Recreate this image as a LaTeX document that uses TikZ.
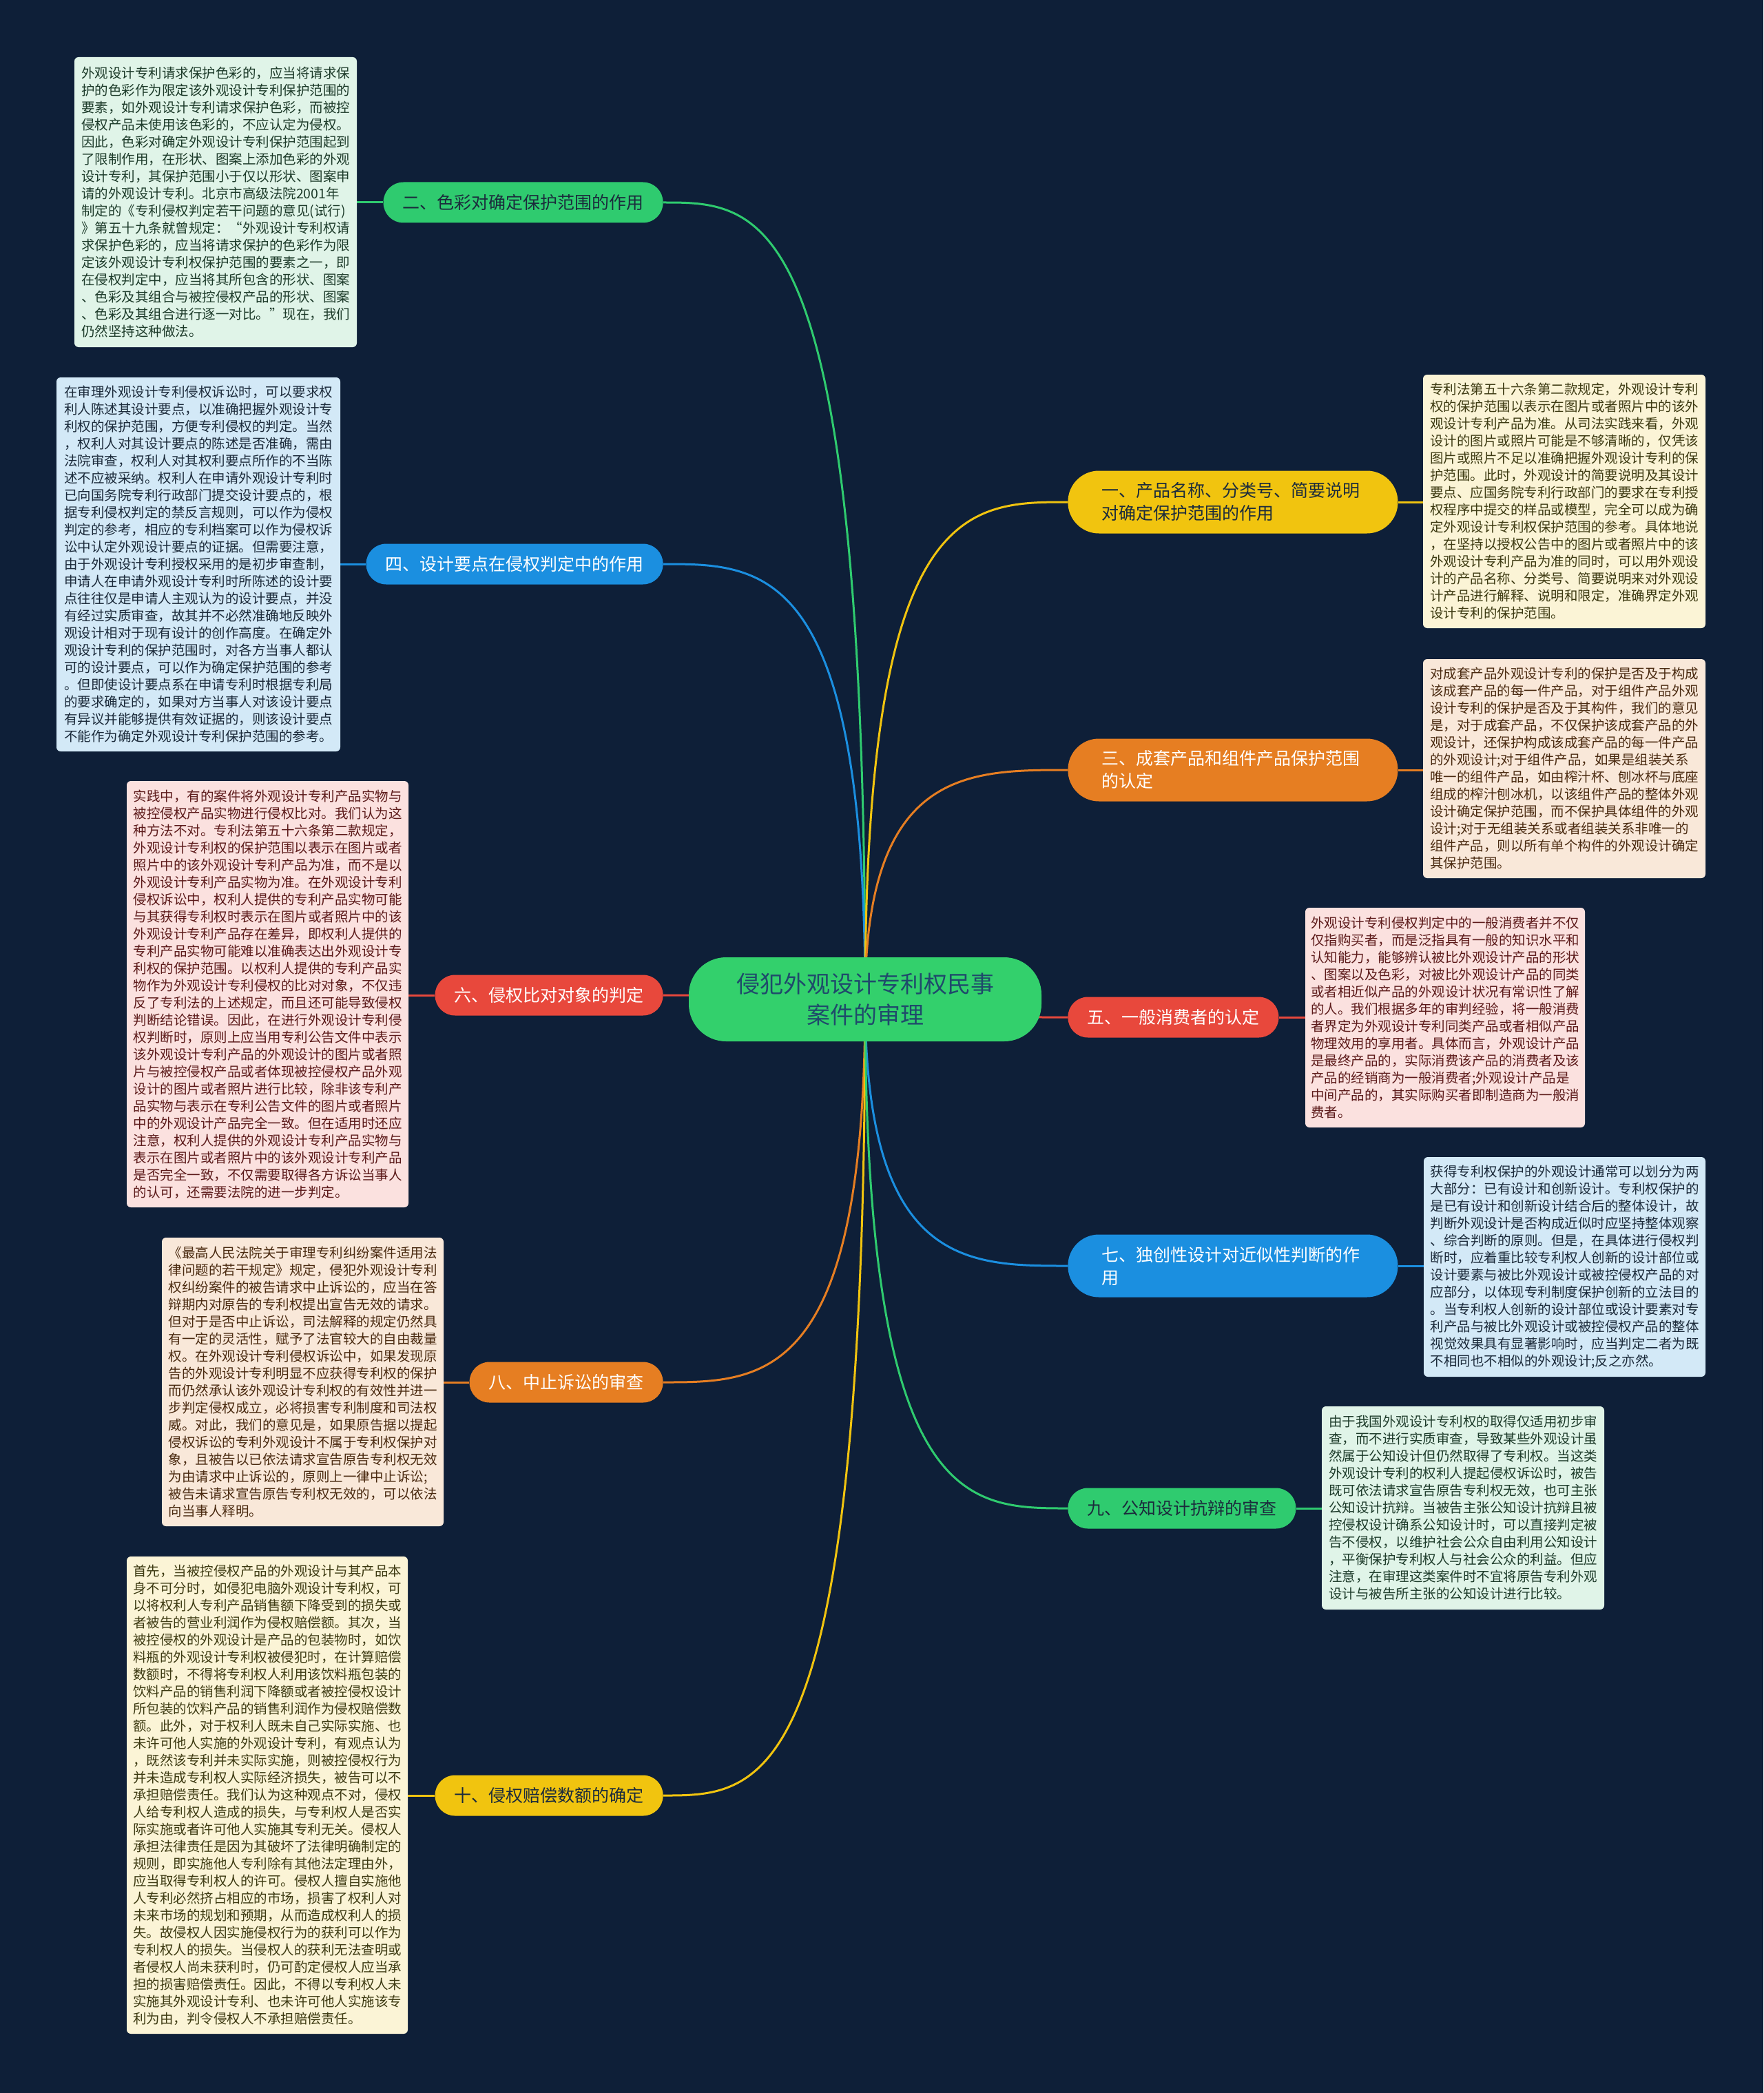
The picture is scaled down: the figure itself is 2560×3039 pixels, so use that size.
\documentclass[tikz,border=0pt]{standalone}
\usepackage{fontspec}
\setmainfont{Noto Sans CJK SC}
\usetikzlibrary{calc}
\pgfdeclarelayer{bglayer}
\pgfdeclarelayer{edgelayer}
\pgfsetlayers{bglayer,edgelayer,main}
\definecolor{bgc}{HTML}{0E1F38}
\definecolor{cgreen}{HTML}{2FCB6F}
\definecolor{ccenter}{HTML}{33D06C}
\definecolor{cblue}{HTML}{1B8FE0}
\definecolor{cred}{HTML}{E8483C}
\definecolor{corange}{HTML}{E67E22}
\definecolor{cyellow}{HTML}{F1C40F}
\definecolor{fmint}{HTML}{E0F4E8}
\definecolor{fblue}{HTML}{D3E9F7}
\definecolor{fpink}{HTML}{FBE1DF}
\definecolor{fpeach}{HTML}{F9E8D9}
\definecolor{fcream}{HTML}{FBF4D6}
\definecolor{tmint}{HTML}{1D3B2A}
\definecolor{tblue}{HTML}{1B2A3A}
\definecolor{tpink}{HTML}{5C1A1A}
\definecolor{tpeach}{HTML}{4A2A10}
\definecolor{tcream}{HTML}{3D3A12}
\definecolor{tdark}{HTML}{1B2B3C}
\definecolor{tcenter}{HTML}{1F4A6B}
\tikzset{
  tbox/.style={rounded corners=3pt, inner sep=0pt, align=left, font=\fontsize{9.75}{12.5}\selectfont},
  pill/.style={rounded corners=14.5pt, minimum height=29.5pt, inner xsep=14pt, inner ysep=0pt, font=\fontsize{12.5}{16.5}\selectfont},
  pilltwo/.style={rounded corners=22.5pt, minimum height=45.5pt, inner xsep=24.75pt, inner ysep=0pt, text width=190pt, align=left, font=\fontsize{12.5}{16.5}\selectfont},
  edge/.style={line width=1.5pt},
  branch/.style={to path={.. controls (\tikztostart |- \tikztotarget) and ($(\tikztostart |- \tikztotarget)!0.5!(\tikztotarget)$) .. (\tikztotarget)}}
}
\begin{document}
\begin{tikzpicture}[x=0.5pt,y=-0.5pt]
\begin{pgfonlayer}{bglayer}
\fill[bgc] (0,0) rectangle (2560,3039);
\end{pgfonlayer}
\useasboundingbox (0,0) rectangle (2560,3039);

% center
\node[fill=ccenter, rounded corners=27pt, minimum width=256pt, minimum height=61pt, align=center, inner sep=0pt, text=tcenter, font=\fontsize{17}{22.3}\selectfont] (c) at (1256,1451) {侵犯外观设计专利权民事\\案件的审理};

% left branches
\node[pill, fill=cgreen, text=tdark, anchor=east] (t2) at (963,294) {二、色彩对确定保护范围的作用};
\node[pill, fill=cblue, text=white, anchor=east] (t4) at (963,819) {四、设计要点在侵权判定中的作用};
\node[pill, fill=cred, text=white, anchor=east] (t6) at (963,1445) {六、侵权比对对象的判定};
\node[pill, fill=corange, text=white, anchor=east] (t8) at (963,2007) {八、中止诉讼的审查};
\node[pill, fill=cyellow, text=tdark, anchor=east] (t10) at (963,2607) {十、侵权赔偿数额的确定};

% right branches
\node[pilltwo, fill=cyellow, text=tdark, anchor=west] (t1) at (1550,729) {一、产品名称、分类号、简要说明\\对确定保护范围的作用};
\node[pilltwo, fill=corange, text=white, anchor=west] (t3) at (1550,1118) {三、成套产品和组件产品保护范围\\的认定};
\node[pill, fill=cred, text=white, anchor=west] (t5) at (1550,1477) {五、一般消费者的认定};
\node[pilltwo, fill=cblue, text=white, anchor=west] (t7) at (1550,1838) {七、独创性设计对近似性判断的作\\用};
\node[pill, fill=cgreen, text=tdark, anchor=west] (t9) at (1550,2190) {九、公知设计抗辩的审查};

% text boxes left
\node[tbox, fill=fmint, text=tmint, minimum width=205pt, minimum height=210.5pt] (b2) at (313,293.5) {外观设计专利请求保护色彩的，应当将请求保\\护的色彩作为限定该外观设计专利保护范围的\\要素，如外观设计专利请求保护色彩，而被控\\侵权产品未使用该色彩的，不应认定为侵权。\\因此，色彩对确定外观设计专利保护范围起到\\了限制作用，在形状、图案上添加色彩的外观\\设计专利，其保护范围小于仅以形状、图案申\\请的外观设计专利。北京市高级法院2001年\\制定的《专利侵权判定若干问题的意见(试行)\\》第五十九条就曾规定：“外观设计专利权请\\求保护色彩的，应当将请求保护的色彩作为限\\定该外观设计专利权保护范围的要素之一，即\\在侵权判定中，应当将其所包含的形状、图案\\、色彩及其组合与被控侵权产品的形状、图案\\、色彩及其组合进行逐一对比。”现在，我们\\仍然坚持这种做法。};

\node[tbox, fill=fblue, text=tblue, minimum width=206pt, minimum height=271.5pt] (b4) at (288,819.5) {在审理外观设计专利侵权诉讼时，可以要求权\\利人陈述其设计要点，以准确把握外观设计专\\利权的保护范围，方便专利侵权的判定。当然\\，权利人对其设计要点的陈述是否准确，需由\\法院审查，权利人对其权利要点所作的不当陈\\述不应被采纳。权利人在申请外观设计专利时\\已向国务院专利行政部门提交设计要点的，根\\据专利侵权判定的禁反言规则，可以作为侵权\\判定的参考，相应的专利档案可以作为侵权诉\\讼中认定外观设计要点的证据。但需要注意，\\由于外观设计专利授权采用的是初步审查制，\\申请人在申请外观设计专利时所陈述的设计要\\点往往仅是申请人主观认为的设计要点，并没\\有经过实质审查，故其并不必然准确地反映外\\观设计相对于现有设计的创作高度。在确定外\\观设计专利的保护范围时，对各方当事人都认\\可的设计要点，可以作为确定保护范围的参考\\。但即使设计要点系在申请专利时根据专利局\\的要求确定的，如果对方当事人对该设计要点\\有异议并能够提供有效证据的，则该设计要点\\不能作为确定外观设计专利保护范围的参考。};

\node[tbox, fill=fpink, text=tpink, minimum width=204.5pt, minimum height=309.5pt] (b6) at (388.5,1443.5) {实践中，有的案件将外观设计专利产品实物与\\被控侵权产品实物进行侵权比对。我们认为这\\种方法不对。专利法第五十六条第二款规定，\\外观设计专利权的保护范围以表示在图片或者\\照片中的该外观设计专利产品为准，而不是以\\外观设计专利产品实物为准。在外观设计专利\\侵权诉讼中，权利人提供的专利产品实物可能\\与其获得专利权时表示在图片或者照片中的该\\外观设计专利产品存在差异，即权利人提供的\\专利产品实物可能难以准确表达出外观设计专\\利权的保护范围。以权利人提供的专利产品实\\物作为外观设计专利侵权的比对对象，不仅违\\反了专利法的上述规定，而且还可能导致侵权\\判断结论错误。因此，在进行外观设计专利侵\\权判断时，原则上应当用专利公告文件中表示\\该外观设计专利产品的外观设计的图片或者照\\片与被控侵权产品或者体现被控侵权产品外观\\设计的图片或者照片进行比较，除非该专利产\\品实物与表示在专利公告文件的图片或者照片\\中的外观设计产品完全一致。但在适用时还应\\注意，权利人提供的外观设计专利产品实物与\\表示在图片或者照片中的该外观设计专利产品\\是否完全一致，不仅需要取得各方诉讼当事人\\的认可，还需要法院的进一步判定。};

\node[tbox, fill=fpeach, text=tpeach, minimum width=204.5pt, minimum height=209.5pt] (b8) at (439.5,2006.5) {《最高人民法院关于审理专利纠纷案件适用法\\律问题的若干规定》规定，侵犯外观设计专利\\权纠纷案件的被告请求中止诉讼的，应当在答\\辩期内对原告的专利权提出宣告无效的请求。\\但对于是否中止诉讼，司法解释的规定仍然具\\有一定的灵活性，赋予了法官较大的自由裁量\\权。在外观设计专利侵权诉讼中，如果发现原\\告的外观设计专利明显不应获得专利权的保护\\而仍然承认该外观设计专利权的有效性并进一\\步判定侵权成立，必将损害专利制度和司法权\\威。对此，我们的意见是，如果原告据以提起\\侵权诉讼的专利外观设计不属于专利权保护对\\象，且被告以已依法请求宣告原告专利权无效\\为由请求中止诉讼的，原则上一律中止诉讼;\\被告未请求宣告原告专利权无效的，可以依法\\向当事人释明。};

\node[tbox, fill=fcream, text=tcream, minimum width=204pt, minimum height=346.5pt] (b10) at (388,2606.5) {首先，当被控侵权产品的外观设计与其产品本\\身不可分时，如侵犯电脑外观设计专利权，可\\以将权利人专利产品销售额下降受到的损失或\\者被告的营业利润作为侵权赔偿额。其次，当\\被控侵权的外观设计是产品的包装物时，如饮\\料瓶的外观设计专利权被侵犯时，在计算赔偿\\数额时，不得将专利权人利用该饮料瓶包装的\\饮料产品的销售利润下降额或者被控侵权设计\\所包装的饮料产品的销售利润作为侵权赔偿数\\额。此外，对于权利人既未自己实际实施、也\\未许可他人实施的外观设计专利，有观点认为\\，既然该专利并未实际实施，则被控侵权行为\\并未造成专利权人实际经济损失，被告可以不\\承担赔偿责任。我们认为这种观点不对，侵权\\人给专利权人造成的损失，与专利权人是否实\\际实施或者许可他人实施其专利无关。侵权人\\承担法律责任是因为其破坏了法律明确制定的\\规则，即实施他人专利除有其他法定理由外，\\应当取得专利权人的许可。侵权人擅自实施他\\人专利必然挤占相应的市场，损害了权利人对\\未来市场的规划和预期，从而造成权利人的损\\失。故侵权人因实施侵权行为的获利可以作为\\专利权人的损失。当侵权人的获利无法查明或\\者侵权人尚未获利时，仍可酌定侵权人应当承\\担的损害赔偿责任。因此，不得以专利权人未\\实施其外观设计专利、也未许可他人实施该专\\利为由，判令侵权人不承担赔偿责任。};

% text boxes right
\node[tbox, fill=fcream, text=tcream, minimum width=205pt, minimum height=184pt] (b1) at (2271,728) {专利法第五十六条第二款规定，外观设计专利\\权的保护范围以表示在图片或者照片中的该外\\观设计专利产品为准。从司法实践来看，外观\\设计的图片或照片可能是不够清晰的，仅凭该\\图片或照片不足以准确把握外观设计专利的保\\护范围。此时，外观设计的简要说明及其设计\\要点、应国务院专利行政部门的要求在专利授\\权程序中提交的样品或模型，完全可以成为确\\定外观设计专利权保护范围的参考。具体地说\\，在坚持以授权公告中的图片或者照片中的该\\外观设计专利产品为准的同时，可以用外观设\\计的产品名称、分类号、简要说明来对外观设\\计产品进行解释、说明和限定，准确界定外观\\设计专利的保护范围。};

\node[tbox, fill=fpeach, text=tpeach, minimum width=205pt, minimum height=159pt] (b3) at (2271,1116) {对成套产品外观设计专利的保护是否及于构成\\该成套产品的每一件产品，对于组件产品外观\\设计专利的保护是否及于其构件，我们的意见\\是，对于成套产品，不仅保护该成套产品的外\\观设计，还保护构成该成套产品的每一件产品\\的外观设计;对于组件产品，如果是组装关系\\唯一的组件产品，如由榨汁杯、刨冰杯与底座\\组成的榨汁刨冰机，以该组件产品的整体外观\\设计确定保护范围，而不保护具体组件的外观\\设计;对于无组装关系或者组装关系非唯一的\\组件产品，则以所有单个构件的外观设计确定\\其保护范围。};

\node[tbox, fill=fpink, text=tpink, minimum width=203pt, minimum height=159.5pt] (b5) at (2098,1477.5) {外观设计专利侵权判定中的一般消费者并不仅\\仅指购买者，而是泛指具有一般的知识水平和\\认知能力，能够辨认被比外观设计产品的形状\\、图案以及色彩，对被比外观设计产品的同类\\或者相近似产品的外观设计状况有常识性了解\\的人。我们根据多年的审判经验，将一般消费\\者界定为外观设计专利同类产品或者相似产品\\物理效用的享用者。具体而言，外观设计产品\\是最终产品的，实际消费该产品的消费者及该\\产品的经销商为一般消费者;外观设计产品是\\中间产品的，其实际购买者即制造商为一般消\\费者。};

\node[tbox, fill=fblue, text=tblue, minimum width=204.5pt, minimum height=159.5pt] (b7) at (2271.5,1839.5) {获得专利权保护的外观设计通常可以划分为两\\大部分：已有设计和创新设计。专利权保护的\\是已有设计和创新设计结合后的整体设计，故\\判断外观设计是否构成近似时应坚持整体观察\\、综合判断的原则。但是，在具体进行侵权判\\断时，应着重比较专利权人创新的设计部位或\\设计要素与被比外观设计或被控侵权产品的对\\应部分，以体现专利制度保护创新的立法目的\\。当专利权人创新的设计部位或设计要素对专\\利产品与被比外观设计或被控侵权产品的整体\\视觉效果具有显著影响时，应当判定二者为既\\不相同也不相似的外观设计;反之亦然。};

\node[tbox, fill=fmint, text=tmint, minimum width=205pt, minimum height=147.5pt] (b9) at (2124,2189.5) {由于我国外观设计专利权的取得仅适用初步审\\查，而不进行实质审查，导致某些外观设计虽\\然属于公知设计但仍然取得了专利权。当这类\\外观设计专利的权利人提起侵权诉讼时，被告\\既可依法请求宣告原告专利权无效，也可主张\\公知设计抗辩。当被告主张公知设计抗辩且被\\控侵权设计确系公知设计时，可以直接判定被\\告不侵权，以维护社会公众自由利用公知设计\\，平衡保护专利权人与社会公众的利益。但应\\注意，在审理这类案件时不宜将原告专利外观\\设计与被告所主张的公知设计进行比较。};

\begin{pgfonlayer}{edgelayer}
\draw[edge, cgreen] (c.center) to[branch] (t2.east);
\draw[edge, cblue] (c.center) to[branch] (t4.east);
\draw[edge, cred] (c.center) to[branch] (t6.east);
\draw[edge, corange] (c.center) to[branch] (t8.east);
\draw[edge, cyellow] (c.center) to[branch] (t10.east);
\draw[edge, cyellow] (c.center) to[branch] (t1.west);
\draw[edge, corange] (c.center) to[branch] (t3.west);
\draw[edge, cred] (c.center) to[branch] (t5.west);
\draw[edge, cblue] (c.center) to[branch] (t7.west);
\draw[edge, cgreen] (c.center) to[branch] (t9.west);
\draw[edge, cgreen] (t2.west) -- (t2.west -| b2.east);
\draw[edge, cblue] (t4.west) -- (t4.west -| b4.east);
\draw[edge, cred] (t6.west) -- (t6.west -| b6.east);
\draw[edge, corange] (t8.west) -- (t8.west -| b8.east);
\draw[edge, cyellow] (t10.west) -- (t10.west -| b10.east);
\draw[edge, cyellow] (t1.east) -- (t1.east -| b1.west);
\draw[edge, corange] (t3.east) -- (t3.east -| b3.west);
\draw[edge, cred] (t5.east) -- (t5.east -| b5.west);
\draw[edge, cblue] (t7.east) -- (t7.east -| b7.west);
\draw[edge, cgreen] (t9.east) -- (t9.east -| b9.west);
\end{pgfonlayer}
\end{tikzpicture}
\end{document}
